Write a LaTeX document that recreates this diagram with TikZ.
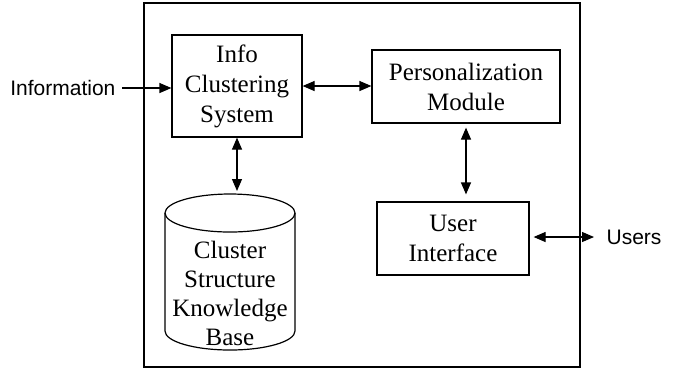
\documentclass[tikz,border=0pt]{standalone}
\usepackage{fontspec}
\setmainfont{Liberation Serif}
\setsansfont{Liberation Sans}
\usetikzlibrary{arrows.meta}

\begin{document}
\begin{tikzpicture}[x=0.5pt,y=-0.5pt,->,>={Triangle[length=6pt,width=5pt]},line width=0.6pt,
	box/.style={draw,rectangle,align=center,inner sep=0pt,font=\fontsize{12.5}{15}\selectfont},
	ext/.style={font=\sffamily\fontsize{10.5}{12.6}\selectfont,inner sep=1pt}]
		\useasboundingbox (0,0) rectangle (680,372);
		\draw[-] (144,3) rectangle (580,367);
		
		\node[box,minimum width=65pt,minimum height=51pt] (ics) at (237,86) {Info\\Clustering\\System};
		\node[box,minimum width=94pt,minimum height=36.5pt] (pm) at (466,86.5) {Personalization\\Module};
		\node[box,minimum width=76pt,minimum height=36.5pt] (ui) at (453,238.5) {User\\Interface};
		
		% knowledge base drum
		\draw[-] (230,213) ellipse[x radius=65,y radius=19];
		\draw[-] (165,213) -- (165,331) arc[start angle=180,end angle=0,x radius=65,y radius=19] -- (295,213);
		\coordinate (kb) at (230,194);
		\node[align=center,font=\fontsize{12.5}{14.5}\selectfont] (kbtext) at (230,293) {Cluster\\Structure\\Knowledge\\Base};
		
		\node[ext,anchor=east] (info) at (118,88) {Information};
		\node[ext,anchor=west] (users) at (604,237) {Users};
		
		\draw[shorten <=2pt]  (info.east) -- (ics.west |- info.east);
		\draw[<->]  (ics.east) -- (ics.east -| pm.west);
		\draw[<->,shorten >=1.5pt]  (ics.south) -- (ics.south |- kb);
		\draw[<->,shorten <=2pt,shorten >=3.5pt]  (pm.south) -- (pm.south |- ui.north);
		\draw[<->,shorten <=2pt,shorten >=5pt]  (ui.east |- users.west) -- (users.west);
		
		\end{tikzpicture}
\end{document}
